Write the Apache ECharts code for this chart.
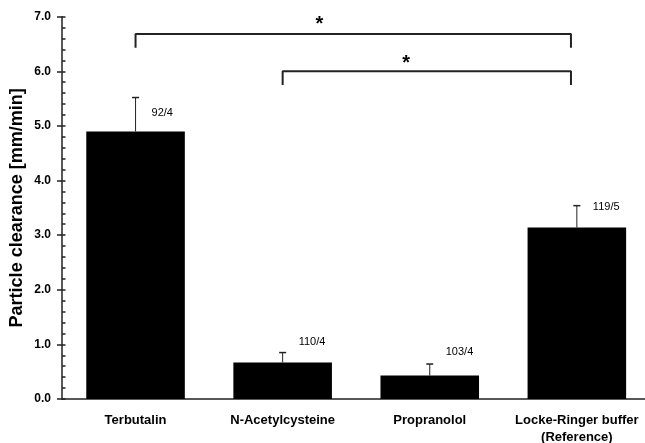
<!DOCTYPE html>
<html>
<head>
<meta charset="utf-8">
<script src="https://cdn.jsdelivr.net/npm/echarts@6/dist/echarts.min.js"></script>
<style>
html,body{margin:0;padding:0;background:#fff;}
#chart{width:645px;height:443px;}
</style>
</head>
<body>
<div id="chart"></div>
<script>
const categories = ['Terbutalin', 'N-Acetylcysteine', 'Propranolol', 'Locke-Ringer buffer\n(Reference)'];
const means = [4.9, 0.67, 0.43, 3.14];
const errorTops = [5.52, 0.85, 0.64, 3.54];
const nLabels = ['92/4', '110/4', '103/4', '119/5'];
const nLabelY = [5.23, 1.05, 0.855, 3.52];
const yTicks = [0, 1, 2, 3, 4, 5, 6, 7];
// significance brackets (x in category-index units)
const bracketFrom = [0, 1];
const bracketTo = [2.96, 2.96];
const bracketY = [6.685, 6.0];
const bracketDrop = [6.43, 5.75];
const starX = [1.25, 1.84];
const starY = [6.85, 6.15];

const FONT = 'Liberation Sans, Arial, sans-serif';
const chart = echarts.init(document.getElementById('chart'));

const bracketSeries = bracketFrom.map((f, k) => ({
  type: 'line',
  xAxisIndex: 1,
  yAxisIndex: 0,
  symbol: 'none',
  silent: true,
  animation: false,
  lineStyle: {color: '#222', width: 2},
  data: [[f, bracketDrop[k]], [f, bracketY[k]], [bracketTo[k], bracketY[k]], [bracketTo[k], bracketDrop[k]]]
}));

chart.setOption({
  animation: false,
  grid: {left: 62, top: 16.7, bottom: 44, width: 588.4, containLabel: false, outerBoundsMode: 'none'},
  xAxis: [{
    type: 'category',
    data: categories,
    axisLine: {show: true, onZero: false, lineStyle: {color: '#222', width: 1.5}},
    axisTick: {show: false},
    axisLabel: {color: '#000', fontFamily: FONT, fontSize: 13, fontWeight: 'bold', margin: 13, lineHeight: 17, interval: 0}
  }, {
    type: 'value',
    min: -0.5, max: 3.5,
    show: false,
    axisLine: {onZero: false}
  }],
  yAxis: [{
    type: 'value',
    position: 'left',
    min: 0, max: 7, interval: 1,
    name: 'Particle clearance [mm/min]',
    nameLocation: 'middle',
    nameGap: 36,
    nameMoveOverlap: false,
    nameTextStyle: {color: '#000', fontFamily: FONT, fontSize: 18, fontWeight: 'bold'},
    axisLine: {show: true, onZero: false, lineStyle: {color: '#222', width: 1.5}},
    axisTick: {show: true, inside: false, length: 5, lineStyle: {color: '#222', width: 1.5}},
    axisLabel: {color: '#000', fontFamily: FONT, fontSize: 12, fontWeight: 'bold', margin: 11,
      formatter: v => yTicks.indexOf(v) >= 0 ? v.toFixed(1) : ''},
    splitLine: {show: false}
  }, {
    type: 'value',
    position: 'left',
    min: 0, max: 7, interval: 1,
    axisLine: {show: false, onZero: false},
    axisTick: {show: true, inside: true, length: 3.5, lineStyle: {color: '#222', width: 1.5}},
    minorTick: {show: true, splitNumber: 5, length: 3.5, lineStyle: {color: '#222', width: 1.5}},
    axisLabel: {show: false},
    splitLine: {show: false}
  }],
  series: [{
    type: 'bar',
    data: means,
    barCategoryGap: '33%',
    itemStyle: {color: '#000'},
    silent: true
  }, {
    type: 'custom',
    silent: true,
    data: means.map((m, i) => [i, m, errorTops[i], nLabelY[i]]),
    renderItem: function (params, api) {
      const i = api.value(0);
      const p0 = api.coord([i, api.value(1)]);
      const p1 = api.coord([i, api.value(2)]);
      const pl = api.coord([i, api.value(3)]);
      const s = {stroke: '#222', lineWidth: 1};
      return {
        type: 'group',
        children: [
          {type: 'line', shape: {x1: p0[0], y1: p0[1], x2: p1[0], y2: p1[1]}, style: s},
          {type: 'line', shape: {x1: p1[0] - 3.5, y1: p1[1], x2: p1[0] + 3.5, y2: p1[1]}, style: {stroke: '#222', lineWidth: 1.5}},
          {type: 'text', x: pl[0] + 16, y: pl[1], style: {text: nLabels[params.dataIndex], fill: '#000', font: '11px ' + FONT, align: 'left', verticalAlign: 'middle'}}
        ]
      };
    }
  }].concat(bracketSeries).concat([{
    type: 'custom',
    xAxisIndex: 1,
    silent: true,
    data: starX.map((x, k) => [x, starY[k]]),
    renderItem: function (params, api) {
      const p = api.coord([api.value(0), api.value(1)]);
      return {type: 'text', x: p[0], y: p[1], style: {text: '*', fill: '#000', font: 'bold 20px ' + FONT, align: 'center', verticalAlign: 'middle'}};
    }
  }])
});
</script>
</body>
</html>
